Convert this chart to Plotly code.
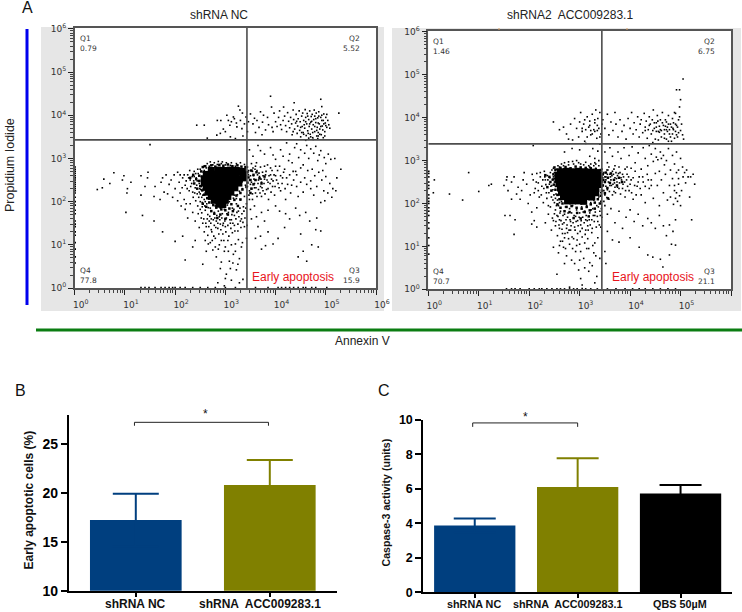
import plotly.graph_objects as go

W, H = 742, 612

# Panel A: flow cytometry events, as (log10 Annexin V, log10 PI)
nc_core = [(2.72,2.72),(2.85,2.73),(2.98,2.72),(3.1,2.73),(3.22,2.72),(3.34,2.7),(2.62,2.63),(2.74,2.64),(2.86,2.65),(2.98,2.63),(3.1,2.64),(3.22,2.63),(3.35,2.62),
(2.58,2.53),(2.68,2.54),(2.8,2.53),(2.92,2.54),(3.04,2.53),(3.16,2.54),(3.28,2.52),(3.36,2.55),(2.58,2.43),(2.68,2.42),(2.8,2.43),(2.92,2.42),(3.04,2.43),(3.16,2.42),(3.27,2.43),
(2.62,2.33),(2.72,2.32),(2.84,2.33),(2.96,2.32),(3.08,2.33),(3.19,2.32),(2.66,2.22),(2.76,2.22),(2.88,2.23),(3.0,2.22),(3.11,2.22),(2.72,2.12),(2.82,2.12),(2.94,2.13),(3.05,2.12),(2.78,2.03),(2.88,2.02),(3.0,2.03),(2.87,1.94),(2.95,1.93)]
nc_mid = [(2.6,2.82),(2.72,2.84),(2.8,2.81),(2.88,2.85),(2.96,2.83),(3.05,2.86),(3.14,2.82),(3.24,2.84),(3.32,2.81),(3.4,2.8),(3.44,2.68),(3.46,2.56),(3.44,2.44),(3.42,2.34),(3.34,2.28),(3.3,2.2),(3.22,2.14),(3.18,2.04),(3.12,1.94),(3.08,1.84),(3.0,1.8),(2.92,1.82),(2.82,1.86),(2.76,1.92),(2.68,1.98),(2.64,2.08),(2.58,2.16),(2.54,2.26),(2.5,2.36),(2.48,2.48),(2.48,2.6),(2.52,2.7),(2.42,2.52),(2.38,2.42),(2.36,2.62),(2.44,2.3),(2.3,2.55),(2.55,2.8),(3.52,2.72),(3.56,2.62),(3.6,2.5),(3.56,2.4),(3.52,2.3),(3.62,2.68),(3.68,2.54),(3.72,2.42),(3.78,2.58),(3.5,2.5),(3.5,2.2),(2.9,1.7),(3.05,1.7),(2.78,1.72),(2.84,1.62),(3.0,1.6),(2.72,1.78),(3.15,1.78),(3.25,1.9),(2.62,1.88),(2.55,1.95),(3.3,2.05)]
nc_sparse = [(2.43,3.77),(2.58,3.77),(2.64,3.47),(2.83,3.54),(2.9,3.58),(2.84,3.88),(2.91,3.88),(3.03,4.0),(3.16,3.96),(3.26,4.21),(3.29,4.12),(3.09,3.77),(3.23,3.73),(3.33,3.69),(3.41,3.96),(3.46,3.85),(3.63,3.88),(3.76,4.0),(3.9,4.44),(3.92,4.19),(4.16,4.19),(4.37,4.29),(4.9,4.37),(5.26,4.05),(3.0,3.62),(3.12,3.85),(3.18,3.92),(3.22,3.82),(3.34,4.05),(3.38,3.8),(3.44,3.62),(3.5,4.03),(3.55,3.8),(3.58,3.93),(3.67,3.72),(3.7,4.08),(3.74,3.84),(3.8,3.66),(3.84,3.95),(3.86,3.78),(3.93,3.72),(3.97,4.05),(4.0,3.85),
(4.03,3.74),(4.06,3.95),(4.08,4.1),(4.1,3.78),(4.12,3.67),(4.15,3.88),(4.18,3.98),(4.2,3.76),(4.22,3.62),(4.24,4.06),(4.26,3.86),(4.28,3.71),(4.3,3.95),(4.32,3.8),(4.33,3.55),(4.35,4.12),(4.36,3.9),(4.38,3.68),(4.4,3.82),(4.41,4.02),(4.43,3.58),(4.44,3.75),(4.45,3.92),(4.47,4.1),(4.48,3.65),(4.49,3.85),(4.5,3.5),(4.52,3.98),(4.53,3.74),(4.54,4.05),(4.55,3.6),(4.56,3.88),(4.58,3.7),(4.59,4.13),(4.6,3.95),(4.61,3.53),(4.62,3.8),(4.63,4.04),(4.64,3.64),(4.66,3.9),(4.67,3.74),(4.68,4.1),(4.69,3.56),(4.7,3.84),(4.71,3.97),(4.72,3.68),(4.73,4.02),(4.74,3.48),(4.75,3.78),(4.76,3.9),(4.77,4.12),(4.78,3.62),(4.8,3.83),(4.81,4.05),(4.82,3.52),(4.83,3.72),(4.84,3.94),(4.85,3.6),(4.86,4.08),(4.87,3.8),(4.88,3.68),(4.9,3.95),(4.91,3.55),(4.92,4.2),(4.93,3.75),(4.95,3.88),(4.96,4.03),(4.98,3.62),(4.99,3.82),(5.0,3.95),(5.02,3.72),(5.04,3.88),(5.06,3.78),(5.08,3.7),(4.6,3.42),(4.66,3.47),(4.75,3.44),(4.84,3.46),(3.73,3.55),(3.95,3.62),(3.6,3.6),(3.35,3.52),(3.2,3.46),(3.1,3.5),(2.96,3.68),(3.06,3.88),(3.3,3.88),
(1.5,3.32),(3.65,3.3),(3.78,3.1),(3.9,3.25),(4.0,2.98),(4.1,3.2),(4.15,3.05),(4.22,3.36),(4.28,3.1),(4.33,2.9),(4.38,3.25),(4.42,3.34),(4.46,3.02),(4.5,3.2),(4.55,2.85),(4.58,3.12),(4.62,3.3),(4.66,3.0),(4.7,3.22),(4.73,2.75),(4.76,3.12),(4.8,3.28),(4.84,2.95),(4.87,3.08),(4.9,3.18),(4.94,2.72),(4.97,3.02),(5.0,2.88),(5.05,3.1),(5.1,2.98),(5.18,3.0),(5.3,2.75),(3.55,3.05),(3.62,2.9),(3.7,3.18),(3.48,3.2),(3.52,2.88),(3.84,2.85),(3.95,3.08),(4.08,2.82),(4.18,2.75),(4.26,2.95),(4.35,2.7),(4.42,2.62),(4.5,2.78),(4.58,2.55),(4.64,2.72),(4.7,2.48),(4.78,2.6),(4.82,2.35),(4.86,2.68),(4.92,2.5),(4.96,2.25),(5.0,2.58),(5.04,2.2),(5.08,2.42),(5.14,2.3),(5.2,2.25),(5.22,2.55),(5.12,2.1),(4.98,2.02),(4.9,1.98),(4.76,2.15),(4.7,2.3),(4.62,2.4),(4.55,2.22),(4.5,2.45),(4.45,2.12),(4.42,2.35),(4.36,2.5),(4.3,2.2),(4.24,2.4),(4.2,2.05),(4.14,2.55),(4.1,2.25),(4.05,2.42),(4.0,2.6),(3.98,2.15),(3.94,2.35),(3.9,2.62),(3.86,2.05),(3.82,2.28),(3.78,2.52),(3.74,2.68),(3.72,2.12),(3.7,2.35),(3.66,2.5),(3.63,2.72),(3.6,2.2),(3.58,2.42),(3.56,2.6),(3.54,2.05),(3.52,2.3),(3.5,2.72),(3.48,2.5),(3.47,2.15),(3.64,2.62),(3.68,2.58),(3.55,2.78),(3.6,2.5),(3.72,2.45),(3.8,2.62),(3.85,2.45),(3.92,2.52),(3.5,2.4),(3.46,2.62),(3.58,2.32),(3.66,2.28),(3.44,2.35),(3.48,2.25),(3.75,2.25),
(4.0,1.9),(4.08,1.78),(4.2,1.72),(4.28,1.6),(4.4,1.85),(4.48,1.68),(4.6,1.75),(4.68,1.55),(4.82,1.62),(4.8,1.35),(4.9,1.32),(3.85,1.8),(3.78,1.55),(3.72,1.75),(3.65,1.42),(3.58,1.9),(3.52,1.6),(3.5,1.82),(3.62,1.65),(3.7,1.2),(3.85,1.3),(3.95,1.02),(4.05,1.15),(4.18,1.4),(4.45,0.72),(4.5,1.25),(4.62,0.62),(4.55,0.85),(4.72,1.0),(4.85,0.95),(3.8,0.98),(3.72,0.9),(3.6,1.15),
(2.08,2.45),(2.15,2.55),(2.2,2.38),(2.25,2.62),(2.28,2.25),(2.3,2.5),(2.33,2.42),(2.36,2.1),(2.38,2.7),(2.4,2.32),(2.42,2.55),(2.44,2.18),(2.46,2.65),(2.48,2.42),(2.5,2.0),(2.5,2.75),(2.51,2.28),(2.52,2.58),(2.54,1.88),(2.55,2.15),(2.56,2.68),(2.58,2.05),(2.6,1.8),(2.6,2.2),(2.62,2.78),(2.63,1.95),(2.65,1.7),(2.66,2.08),(2.68,2.82),(2.7,1.85),(2.72,1.6),(2.74,1.98),(2.75,2.85),(2.78,1.75),(2.8,1.9),(2.82,1.55),(2.84,2.86),(2.86,1.78),(2.88,1.65),(2.9,1.85),(2.92,2.88),(2.94,1.72),(2.96,1.5),(2.98,1.82),(3.0,2.85),(3.02,1.62),(3.04,1.92),(3.06,1.75),(3.08,2.0),(3.1,2.84),(3.12,1.58),(3.14,1.85),(3.16,2.08),(3.18,1.68),(3.2,2.82),(3.22,1.95),(3.24,2.16),(3.26,1.78),(3.28,2.24),(3.3,2.04),(3.32,1.6),(3.34,2.3),(3.36,1.88),(3.38,2.12),(3.4,2.38),(3.42,1.95),(3.44,2.8),(3.46,2.72),(3.22,2.07),(3.18,2.15),(2.52,2.35),(2.48,2.22),(2.44,2.48),(2.54,2.45),(2.38,2.58),(2.58,2.72),(2.56,2.3),
(2.3,1.95),(2.25,1.62),(2.2,1.82),(2.35,1.75),(2.4,1.55),(2.45,1.9),(2.52,1.62),(2.48,1.4),(2.55,1.5),(2.58,1.3),(2.62,1.42),(2.65,1.22),(2.68,1.55),(2.7,1.05),(2.72,1.35),(2.75,0.88),(2.78,1.45),(2.8,1.15),(2.82,0.72),(2.85,1.38),(2.88,1.0),(2.9,1.48),(2.92,0.6),(2.95,1.25),(2.98,0.85),(3.0,1.42),(3.02,0.32),(3.05,1.1),(3.08,0.62),(3.1,1.5),(3.12,0.18),(3.14,1.28),(3.16,0.78),(3.18,1.45),(3.2,1.02),(3.22,0.42),(3.25,1.32),(3.28,0.68),(3.3,1.55),(3.32,0.95),(3.35,0.2),(3.38,1.42),(3.42,1.15),(2.15,1.2),(2.0,1.08),(2.2,0.65),(2.35,0.95),(2.55,0.55),(2.62,0.85),(2.4,1.1),(2.98,0.05),(2.85,0.12),(3.0,0.22),(3.28,0.12),
(0.45,2.28),(0.55,2.32),(0.7,2.42),(0.78,2.67),(0.58,2.52),(0.95,2.5),(0.98,2.6),(1.05,2.3),(1.04,2.2),(1.12,2.45),(1.02,1.75),(1.32,2.6),(1.4,2.35),(1.45,2.55),(1.46,2.68),(1.32,2.15),(1.35,1.68),(1.58,2.12),(1.6,2.35),(1.7,2.05),(1.72,2.45),(1.75,2.55),(1.78,2.22),(1.82,2.62),(1.85,2.18),(1.88,2.4),(1.92,2.5),(1.95,2.1),(1.98,2.62),(2.0,2.3),(2.05,2.02),(2.05,2.68),(2.1,2.2),(1.75,1.3),(1.58,1.55),(2.12,1.9),(2.18,2.05),(2.22,1.95),
(0.01,2.8),(0.01,2.75),(0.01,2.7),(0.01,2.65),(0.01,2.6),(0.01,2.55),(0.01,2.5),(0.01,2.45),(0.01,2.4),(0.01,2.35),(0.01,2.3),(0.01,2.25),(0.01,2.2),(0.01,2.1),(0.01,2.0),(0.01,1.92),(0.01,1.8),(0.01,1.72),(0.01,1.55),(0.01,1.48),(0.01,1.42),(0.01,1.3),(0.01,1.22),(0.01,1.05),(0.01,0.9),(0.01,0.72),(0.01,0.58),
(1.32,0.01),(1.4,0.01),(1.48,0.01),(1.6,0.01),(1.72,0.01),(1.8,0.01),(1.88,0.01),(1.95,0.01),(2.0,0.01),(2.1,0.01),(2.2,0.01),(2.35,0.01),(2.5,0.01),(2.65,0.01),(2.8,0.01),(3.0,0.01),(3.2,0.01),(3.6,0.01),(3.85,0.01),(4.05,0.01),(4.12,0.01),(4.2,0.01),(4.28,0.01),(4.36,0.01),(4.45,0.01),(4.55,0.01),(4.6,0.01),(4.72,0.01),(4.8,0.01),(5.02,0.01)]
nc_extra = [(2.41,2.02),(2.46,1.72),(2.5,1.82),(2.53,1.74),(2.57,1.6),(2.59,1.9),(2.61,1.5),(2.64,1.6),(2.66,1.86),(2.67,1.42),(2.69,1.66),(2.71,1.5),(2.73,1.3),(2.76,1.58),(2.77,1.2),(2.79,1.62),(2.81,1.4),(2.83,1.68),(2.85,1.5),(2.87,1.25),(2.89,1.58),(2.91,1.35),(2.93,1.62),(2.95,1.45),(2.97,1.1),(2.99,1.55),(3.01,1.3),(3.03,1.72),(3.05,1.45),(3.07,1.2),(3.09,1.58),(3.11,1.38),(3.13,1.7),(3.15,1.5),(3.17,1.82),(3.19,1.32),(3.21,1.6),(3.23,1.75),(3.25,1.48),(3.27,1.65),(3.29,1.85),(3.31,1.4),(3.33,1.72),(3.35,1.52),(3.37,1.78),(3.39,1.62),(3.41,1.85),(3.43,1.45),(2.6,1.1),(2.66,1.02),(2.74,1.1),(2.8,0.95),(2.86,0.9),(2.92,1.1),(3.0,0.95),(3.06,0.85),(3.12,1.0),(3.2,0.85),(3.26,1.12),(3.34,1.05),(2.9,0.45),(3.1,0.45),(3.15,0.58),(3.25,0.55),
(3.48,2.05),(3.5,2.6),(3.52,2.45),(3.54,2.7),(3.54,2.18),(3.57,2.52),(3.59,2.75),(3.61,2.32),(3.63,2.12),(3.65,2.42),(3.67,2.66),(3.69,2.2),(3.71,2.52),(3.73,2.32),(3.75,2.6),(3.77,2.42),(3.79,2.18),(3.81,2.7),(3.83,2.5),(3.85,2.3),(3.87,2.6),(3.89,2.42),(3.91,2.22),(3.93,2.72),(3.95,2.48),(3.97,2.62),(3.99,2.35),(4.02,2.5),(4.04,2.72),(4.07,2.32),(4.1,2.6),(4.13,2.42),(4.16,2.68),(4.19,2.3),(4.22,2.55),(4.28,2.62),(4.32,2.38),(4.4,2.7),(3.6,2.82),(3.7,2.8),(3.78,2.82),(3.9,2.78),(4.0,2.82),
(2.1,2.62),(2.14,2.32),(2.18,2.62),(2.22,2.48),(2.24,2.3),(2.27,2.55),(2.29,2.72),(2.31,2.35),(2.34,2.58),(2.35,2.22),(2.37,2.48),(2.39,2.2),(2.41,2.65),(2.43,2.38),(2.45,2.75),(2.47,2.1),(2.49,2.3),(2.5,2.18),(2.53,2.1),(2.54,1.98),(2.57,2.82),(2.6,2.0),(2.64,2.88),(2.7,2.92),(2.78,2.9),(2.86,2.93),(2.94,2.92),(3.02,2.9),(3.12,2.9),(3.22,2.88),(3.3,2.9),(3.38,2.86),
(4.35,3.62),(4.42,3.86),(4.5,3.72),(4.52,3.6),(4.57,3.78),(4.6,3.85),(4.65,3.58),(4.68,3.8),(4.72,3.86),(4.74,3.6),(4.78,3.74),(4.8,3.92),(4.82,3.65),(4.85,3.82),(4.88,3.56),(4.9,3.74),(4.92,3.88),(4.94,3.66),(4.96,3.8),(4.98,3.52),(5.0,3.76),(4.7,3.5),(4.85,3.52),(4.78,3.98),(4.86,3.98),(4.92,4.0),(4.64,3.98),(4.56,3.56),(5.02,4.02),(4.95,3.48)]

kd_core = [(2.62,2.74),(2.74,2.75),(2.86,2.74),(2.98,2.75),(3.1,2.74),(3.22,2.73),(3.34,2.72),(2.58,2.66),(2.68,2.66),(2.8,2.67),(2.92,2.66),(3.04,2.67),(3.16,2.66),(3.28,2.65),(3.38,2.67),
(2.57,2.56),(2.67,2.56),(2.79,2.57),(2.91,2.56),(3.03,2.56),(3.15,2.57),(3.27,2.56),(3.38,2.57),(2.59,2.46),(2.69,2.46),(2.81,2.47),(2.93,2.46),(3.05,2.46),(3.17,2.47),(3.29,2.46),(3.38,2.44),
(2.62,2.36),(2.72,2.36),(2.84,2.37),(2.96,2.36),(3.08,2.36),(3.2,2.36),(3.32,2.35),(2.64,2.26),(2.74,2.26),(2.86,2.26),(2.98,2.27),(3.1,2.26),(3.22,2.26),(3.32,2.25),(2.68,2.16),(2.78,2.16),(2.9,2.17),(3.02,2.16),(3.14,2.16),(3.24,2.15),(2.76,2.06),(2.86,2.06),(2.98,2.06),(3.08,2.05)]
kd_mid = [(2.52,2.78),(2.62,2.83),(2.72,2.85),(2.82,2.82),(2.92,2.86),(3.02,2.84),(3.12,2.83),(3.22,2.82),(3.32,2.8),(3.42,2.78),(3.46,2.68),(3.47,2.55),(3.46,2.42),(3.44,2.3),(3.42,2.18),(3.36,2.1),(3.3,2.02),(3.22,1.98),(3.14,1.92),(3.04,1.88),(2.94,1.9),(2.84,1.94),(2.74,1.92),(2.66,2.0),(2.6,2.1),(2.56,2.2),(2.52,2.32),(2.49,2.44),(2.47,2.56),(2.48,2.68),(2.4,2.62),(2.42,2.5),(2.36,2.38),(2.44,2.3),(2.32,2.66),(2.5,2.84),(3.52,2.72),(3.56,2.6),(3.6,2.48),(3.55,2.36),(3.5,2.24),(3.62,2.7),(3.68,2.55),(3.74,2.42),(3.78,2.6),(3.5,2.5),(3.84,2.5),(3.56,2.12),(2.95,1.78),(3.1,1.8),(2.8,1.8),(2.88,1.66),(3.02,1.65),(2.7,1.82),(3.2,1.84),(3.3,1.88),(2.62,1.9),(2.56,1.98),(3.4,2.0),(3.18,1.7)]
kd_sparse = [(2.48,3.9),(2.6,3.72),(2.68,3.78),(2.74,3.62),(2.78,3.5),(2.82,3.85),(2.86,3.48),(2.9,3.98),(2.94,3.75),(2.98,3.55),(3.0,3.9),(3.02,4.12),(3.05,3.68),(3.08,3.85),(3.1,3.45),(3.12,3.72),(3.15,4.02),(3.18,3.78),(3.2,3.92),(3.22,3.6),(3.25,4.08),(3.28,3.72),(3.3,3.88),(3.32,4.18),(3.34,3.52),(3.36,3.98),(3.38,3.75),(3.4,4.12),(3.42,3.62),(3.44,3.85),(3.46,3.95),(3.3,3.68),(3.22,3.7),(3.35,3.7),
(3.5,3.75),(3.55,4.08),(3.58,3.6),(3.62,3.9),(3.66,3.7),(3.7,4.12),(3.72,3.85),(3.76,3.55),(3.8,3.95),(3.84,3.68),(3.88,3.82),(3.92,3.5),(3.96,3.98),(4.0,3.75),(4.03,4.12),(4.06,3.62),(4.08,3.88),(4.12,3.72),(4.15,4.02),(4.18,3.55),(4.2,3.85),(4.22,3.95),(4.25,3.65),(4.28,4.1),(4.3,3.78),(4.32,3.92),(4.34,3.52),(4.36,3.72),(4.38,4.02),(4.4,3.85),(4.42,3.62),(4.44,3.95),(4.46,4.18),(4.48,3.75),(4.5,3.5),(4.52,3.88),(4.54,4.05),(4.56,3.68),(4.58,3.8),(4.6,3.95),(4.62,3.55),(4.64,4.12),(4.66,3.82),(4.68,3.72),(4.7,3.95),(4.72,3.5),(4.74,3.78),(4.76,4.05),(4.78,3.62),(4.8,3.85),(4.82,3.45),(4.84,3.98),(4.85,3.75),(4.86,3.88),(4.88,4.12),(4.9,3.68),(4.92,3.82),(4.94,3.55),(4.96,3.95),(4.98,4.02),(5.0,3.7),(5.02,3.85),(5.04,3.6),(5.06,3.5),(4.98,4.25),(4.9,4.1),(4.92,4.65),(5.0,4.42),(4.98,4.65),(5.05,4.9),(4.45,3.7),(4.52,3.68),(4.58,3.66),(4.62,3.7),(4.72,3.72),(4.76,3.45),(4.56,3.48),(4.45,3.42),(4.68,3.52),
(2.08,3.35),(2.7,3.2),(2.85,3.28),(3.0,3.25),(3.12,3.4),(3.2,3.1),(3.26,3.28),(3.3,3.05),(3.32,2.92),(3.36,3.22),(3.38,3.0),(3.4,3.38),(3.28,2.88),(3.2,2.85),(3.5,3.2),(3.55,2.95),(3.6,3.3),(3.65,3.1),(3.7,2.88),(3.76,3.2),(3.82,3.05),(3.88,3.3),(3.94,2.85),(3.98,3.12),(4.04,3.32),(4.1,2.95),(4.16,3.18),(4.22,2.8),(4.26,3.3),(4.3,3.05),(4.35,2.88),(4.38,3.35),(4.42,3.15),(4.46,2.98),(4.5,3.28),(4.52,3.08),(4.55,3.02),(4.58,2.75),(4.6,3.2),(4.62,3.05),(4.66,3.12),(4.68,2.9),(4.72,3.0),(4.76,3.28),(4.8,2.78),(4.84,3.12),(4.88,2.92),(4.92,3.2),(4.96,2.78),(5.0,3.05),(5.04,2.85),(5.08,2.72),(5.12,2.78),(5.2,2.62),(5.25,2.68),
(3.48,2.72),(3.52,2.55),(3.56,2.78),(3.6,2.42),(3.64,2.65),(3.68,2.28),(3.72,2.72),(3.74,2.5),(3.78,2.35),(3.82,2.6),(3.86,2.45),(3.9,2.15),(3.94,2.68),(3.98,2.3),(4.02,2.55),(4.06,2.1),(4.1,2.75),(4.14,2.4),(4.18,2.62),(4.22,2.2),(4.26,2.5),(4.3,2.02),(4.34,2.68),(4.38,2.35),(4.42,2.55),(4.46,2.12),(4.5,2.7),(4.54,2.42),(4.58,1.95),(4.62,2.55),(4.66,2.25),(4.7,2.68),(4.74,2.08),(4.78,2.42),(4.8,2.15),(4.84,2.58),(4.86,1.98),(4.88,2.3),(4.9,2.12),(4.92,2.72),(4.94,2.05),(4.96,2.45),(4.98,2.18),(5.0,1.95),(5.02,2.3),(5.05,2.62),(5.1,2.48),(5.18,2.15),(5.22,1.62),(5.28,2.45),(5.15,2.62),(3.46,2.42),(3.5,2.2),(3.55,2.32),(3.58,2.1),(3.62,2.55),(3.66,2.45),(3.7,2.6),(3.52,2.62),(3.48,2.05),(3.55,2.68),(3.75,2.65),(3.6,2.68),(3.65,2.75),(3.8,2.72),(3.85,2.68),(3.7,2.38),
(3.5,1.95),(3.55,1.75),(3.62,1.88),(3.7,1.55),(3.78,1.82),(3.85,1.42),(3.92,1.68),(4.0,1.85),(4.08,1.58),(4.16,1.75),(4.25,1.48),(4.35,1.65),(4.42,1.55),(4.5,1.42),(4.58,1.72),(4.66,1.48),(4.78,1.5),(4.85,1.35),(4.9,1.62),(4.82,1.05),(4.9,1.03),(4.78,0.8),(4.6,0.7),(4.45,0.75),(4.0,1.2),(3.78,1.1),(3.55,1.35),(3.5,0.88),(3.52,0.6),(3.42,1.45),(4.18,0.98),(4.35,0.8),(4.65,0.52),(4.72,1.25),(3.65,1.15),
(1.9,2.72),(2.02,2.2),(2.08,2.55),(2.12,2.35),(2.15,2.7),(2.18,2.48),(2.2,2.15),(2.22,2.62),(2.25,2.4),(2.28,2.02),(2.3,2.75),(2.32,2.55),(2.34,2.25),(2.36,2.65),(2.38,1.95),(2.4,2.45),(2.42,2.72),(2.44,2.15),(2.46,2.55),(2.47,2.32),(2.48,2.82),(2.5,2.02),(2.51,2.65),(2.52,1.85),(2.53,2.22),(2.54,2.8),(2.55,1.72),(2.56,2.08),(2.58,1.95),(2.6,1.62),(2.6,2.85),(2.62,1.82),(2.64,2.05),(2.66,1.52),(2.68,2.88),(2.7,1.75),(2.72,1.92),(2.74,1.42),(2.76,1.68),(2.78,2.9),(2.8,1.88),(2.82,1.58),(2.84,1.78),(2.86,1.95),(2.88,2.92),(2.9,1.45),(2.92,1.7),(2.94,1.85),(2.96,1.6),(2.98,2.95),(3.0,1.78),(3.02,1.5),(3.04,1.92),(3.06,1.68),(3.08,2.9),(3.1,1.82),(3.12,1.62),(3.14,1.95),(3.16,1.48),(3.18,2.88),(3.2,1.78),(3.22,2.02),(3.24,1.62),(3.26,1.88),(3.28,2.08),(3.3,1.72),(3.32,2.82),(3.34,1.95),(3.36,1.58),(3.38,2.15),(3.4,1.82),(3.42,2.05),(3.44,1.68),(3.42,2.25),(3.44,2.8),(3.46,2.6),(3.44,2.5),(2.52,2.4),(2.5,2.5),(2.48,2.62),(2.5,2.72),(2.45,2.42),
(2.38,1.75),(2.32,1.55),(2.44,1.38),(2.48,1.6),(2.52,1.48),(2.56,1.25),(2.6,1.42),(2.62,1.12),(2.66,1.3),(2.68,0.98),(2.7,1.2),(2.74,0.78),(2.76,1.32),(2.8,1.05),(2.82,1.38),(2.84,0.68),(2.88,1.18),(2.92,0.88),(2.96,1.3),(2.98,0.45),(3.0,1.05),(3.02,0.25),(3.05,1.22),(3.08,0.72),(3.12,1.38),(3.14,0.95),(3.16,1.18),(3.2,0.62),(3.24,1.32),(3.28,0.85),(3.3,1.08),(3.34,0.3),(3.36,1.2),(3.4,0.72),(2.58,0.85),(2.48,0.98),(2.15,1.45),(2.05,1.52),(1.7,1.28),(1.72,1.62),(2.55,0.35),(3.05,0.1),(3.3,0.15),(2.8,0.05),(3.18,0.42),
(0.12,2.55),(0.1,2.25),(0.42,2.22),(0.68,2.08),(1.0,2.28),(1.2,2.42),(1.25,2.45),(1.55,2.55),(1.56,2.62),(1.58,2.3),(1.5,2.42),(1.65,2.5),(1.7,2.62),(1.78,2.38),(1.85,2.3),(1.88,2.55),(1.95,2.45),(1.75,2.22),(1.62,1.72),(1.52,1.72),(1.65,2.1),(1.82,2.1),(1.98,2.0),(2.05,1.8),(2.1,1.6),(2.15,1.9),(0.8,2.72),
(0.01,2.75),(0.01,2.7),(0.01,2.62),(0.01,2.5),(0.01,2.42),(0.01,2.35),(0.01,2.2),(0.01,2.12),(0.01,2.05),(0.01,2.0),(0.01,1.9),(0.01,1.82),(0.01,1.72),(0.01,1.55),(0.01,1.42),(0.01,1.2),(0.01,1.02),(0.01,0.82),
(1.55,0.01),(1.65,0.01),(1.72,0.01),(1.82,0.01),(2.0,0.01),(2.1,0.01),(2.2,0.01),(2.25,0.01),(2.35,0.01),(2.45,0.01),(2.55,0.01),(2.62,0.01),(2.7,0.01),(2.8,0.01),(2.88,0.01),(2.95,0.01),(3.05,0.02),(3.12,0.01),(3.22,0.01),(3.35,0.01),(3.55,0.01),(3.72,0.01),(3.9,0.01),(4.05,0.01),(4.18,0.01),(4.3,0.01),(4.45,0.01),(4.6,0.01),(4.75,0.01),(4.9,0.01)]
kd_extra = [(2.42,1.92),(2.46,1.66),(2.5,1.76),(2.53,1.58),(2.57,1.7),(2.59,1.5),(2.61,1.78),(2.63,1.6),(2.65,1.4),(2.67,1.72),(2.69,1.55),(2.71,1.3),(2.73,1.62),(2.75,1.5),(2.77,1.78),(2.79,1.38),(2.81,1.62),(2.83,1.48),(2.85,1.22),(2.87,1.55),(2.89,1.72),(2.91,1.38),(2.93,1.58),(2.95,1.15),(2.97,1.48),(2.99,1.68),(3.01,1.35),(3.03,1.6),(3.05,1.42),(3.07,1.8),(3.09,1.55),(3.11,1.28),(3.13,1.72),(3.15,1.6),(3.17,1.38),(3.19,1.62),(3.21,1.5),(3.23,1.85),(3.25,1.42),(3.27,1.72),(3.29,1.58),(3.31,1.8),(3.33,1.45),(3.35,1.7),(3.37,1.92),(3.39,1.5),(3.41,1.72),(3.43,1.88),(2.6,1.02),(2.66,1.12),(2.72,0.95),(2.78,1.18),(2.86,0.95),(2.94,1.02),(3.02,0.88),(3.1,1.08),(3.18,0.95),(3.26,1.02),(3.32,0.78),(2.9,0.6),(3.1,0.5),(3.25,0.55),(2.7,0.6),(3.0,0.68),
(3.48,2.3),(3.5,2.62),(3.52,2.4),(3.54,2.78),(3.54,2.14),(3.57,2.5),(3.59,2.28),(3.61,2.62),(3.63,2.42),(3.65,2.2),(3.67,2.68),(3.69,2.48),(3.71,2.25),(3.73,2.58),(3.75,2.38),(3.77,2.7),(3.79,2.48),(3.81,2.22),(3.83,2.55),(3.85,2.35),(3.87,2.62),(3.89,2.5),(3.91,2.3),(3.93,2.55),(3.95,2.4),(3.97,2.62),(4.0,2.45),(4.03,2.25),(4.06,2.6),(4.09,2.42),(4.12,2.2),(4.16,2.5),(4.2,2.35),(4.25,2.62),(4.3,2.4),(4.36,2.55),(3.58,2.85),(3.68,2.8),(3.78,2.85),(3.9,2.8),(4.02,2.82),(4.42,2.42),(4.88,2.42),(4.92,2.25),(4.96,2.58),
(2.06,2.68),(2.1,2.25),(2.14,2.5),(2.18,2.3),(2.22,2.72),(2.24,2.2),(2.27,2.55),(2.29,2.35),(2.31,2.62),(2.33,2.44),(2.35,2.12),(2.37,2.55),(2.39,2.25),(2.41,2.6),(2.43,2.4),(2.45,2.78),(2.47,2.08),(2.49,2.2),(2.5,2.58),(2.52,2.12),(2.54,1.95),(2.57,2.88),(2.6,2.02),(2.64,2.92),(2.7,2.95),(2.78,2.97),(2.86,2.98),(2.94,3.0),(3.02,2.92),(3.12,2.96),(3.22,2.92),(3.3,2.95),(3.38,2.88),
(4.3,3.7),(4.38,3.82),(4.48,3.88),(4.52,3.78),(4.55,3.92),(4.6,3.72),(4.64,3.88),(4.68,3.62),(4.7,3.8),(4.72,3.9),(4.74,3.68),(4.76,3.85),(4.78,3.72),(4.8,3.55),(4.82,3.78),(4.84,3.62),(4.86,3.72),(4.88,3.52),(4.9,3.85),(4.92,3.6),(4.94,3.78),(4.96,3.65),(3.05,3.75),(3.1,3.95),(3.15,3.55),(3.2,3.82),(3.25,3.62),(3.3,3.95),(3.35,3.82),(3.4,3.55)]

flow_titles = ["shRNA NC", "shRNA2  ACC009283.1"]
quadrant_x = [3.43, 3.44]
quadrant_y = [3.43, 3.39]
quadrant_names = ["Q1", "Q2", "Q4", "Q3"]
quadrant_values = [["0.79", "5.52", "77.8", "15.9"], ["1.46", "6.75", "70.7", "21.1"]]
decades = [0, 1, 2, 3, 4, 5, 6]

# Panel B
b_labels = ["shRNA NC", "shRNA  ACC009283.1"]
b_values = [17.24, 20.83]
b_errors = [2.7, 2.56]
b_ticks = [10, 15, 20, 25]

# Panel C
c_labels = ["shRNA NC", "shRNA  ACC009283.1", "QBS 50µM"]
c_values = [3.87, 6.11, 5.73]
c_errors = [0.42, 1.67, 0.5]
c_ticks = [0, 2, 4, 6, 8, 10]

NAVY, OLIVE, BLACK = "#003F7F", "#808000", "#000000"
FONT = "Liberation Sans"


def px(x):
    return x / W


def py(y):
    return 1 - y / H


fig = go.Figure()


def flow_panel(idx, core, mid, sparse, box, ylims):
    xn, yn = ("x", "y") if idx == 0 else ("x2", "y2")
    for pts, size in ((core, 7), (mid, 2.5), (sparse, 1.6)):
        fig.add_trace(go.Scatter(
            x=[10 ** p[0] for p in pts], y=[10 ** p[1] for p in pts],
            mode="markers", xaxis=xn, yaxis=yn, showlegend=False, cliponaxis=False,
            marker=dict(symbol="square", size=size, color="black", line=dict(width=0))))
    vals = [10 ** d for d in decades]
    text = [f"10<sup>{d}</sup>" for d in decades]
    minors = [m * 10 ** d for d in decades[:-1] for m in range(2, 10)]
    common = dict(type="log", tickmode="array", tickvals=vals, ticktext=text, ticks="outside",
                  tickcolor="#222222", tickwidth=1, ticklen=5, showgrid=False, zeroline=False, automargin=False,
                  showline=True, linecolor="#555555", linewidth=1.5, mirror=True,
                  tickfont=dict(family="DejaVu Sans", size=9, color="#333333"),
                  minor=dict(tickmode="array", tickvals=minors, ticks="outside", ticklen=3,
                             tickcolor="#444444", tickwidth=1, showgrid=False))
    x0, x1, y0, y1 = box
    xa = dict(common, domain=[px(x0), px(x1)], range=[0, 6.0], anchor=yn, ticklabelstandoff=2, ticklabelshift=6)
    ya = dict(common, domain=[py(y1), py(y0)], range=ylims, anchor=xn)
    fig.update_layout(**{("xaxis" if idx == 0 else "xaxis2"): xa, ("yaxis" if idx == 0 else "yaxis2"): ya})
    qx, qy = 10 ** quadrant_x[idx], 10 ** quadrant_y[idx]
    for sx0, sx1, sy0, sy1 in ((qx, qx, 1, 10 ** ylims[1]), (1, 10 ** 6, qy, qy)):
        fig.add_shape(type="line", xref=xn, yref=yn, x0=sx0, x1=sx1, y0=sy0, y1=sy1,
                      line=dict(color="#4d4d4d", width=1.6), layer="above")
    lx, rx = x0 + 4, x1 - 15
    ty, by = y0 + 5, y1 - 23
    for name, val, tx, anc, tyy in zip(quadrant_names, quadrant_values[idx],
                                       (lx, rx, lx, rx), ("left", "right", "left", "right"),
                                       (ty, ty, by, by)):
        fig.add_annotation(text=f"{name}<br>{val}", xref="paper", yref="paper", x=px(tx), y=py(tyy),
                           xanchor=anc, yanchor="top", showarrow=False, align=anc,
                           font=dict(family="DejaVu Sans", size=7.5, color="#333333"),
                           borderpad=0)


for gx0, gx1, gy0, gy1 in ((41, 384, 27, 311), (392, 741, 28, 311)):
    fig.add_shape(type="rect", xref="paper", yref="paper", x0=px(gx0), x1=px(gx1), y0=py(gy1), y1=py(gy0),
                  fillcolor="#E6E6E6", line=dict(width=0), layer="below")
for box in ((74.7, 376, 28, 288), (428.3, 731, 31, 289.3)):
    fig.add_shape(type="rect", xref="paper", yref="paper", x0=px(box[0]), x1=px(box[1]), y0=py(box[3]), y1=py(box[2]),
                  fillcolor="white", line=dict(width=0), layer="below")

flow_panel(0, nc_core, nc_mid, nc_sparse + nc_extra, (74.7, 376, 28, 288), [0, 6.02])
flow_panel(1, kd_core, kd_mid, kd_sparse + kd_extra, (428.3, 731, 31, 289.3), [0, 6.02])

fig.add_shape(type="line", xref="paper", yref="paper", x0=px(27), x1=px(27), y0=py(305), y1=py(29),
              line=dict(color="#0000EE", width=3))
fig.add_shape(type="line", xref="paper", yref="paper", x0=px(36), x1=px(742), y0=py(330), y1=py(330),
              line=dict(color="#0B7D12", width=3))
for ox in (499, 627):
    fig.add_shape(type="line", xref="paper", yref="paper", x0=px(ox - 1), x1=px(ox + 1), y0=py(29), y1=py(29),
                  line=dict(color="#D9A066", width=1))


def bar_panel(idx, labels, values, errors, colors, barw, cap, box, yrange, ticks, fs, lab_x, lab_size):
    xn, yn = f"x{idx}", f"y{idx}"
    for i, (v, e, c) in enumerate(zip(values, errors, colors)):
        fig.add_trace(go.Bar(
            x=[i], y=[v], width=barw, marker=dict(color=c, line=dict(width=0)), xaxis=xn, yaxis=yn,
            showlegend=False,
            error_y=dict(type="data", array=[e], symmetric=True, color=c, thickness=2, width=cap)))
    x0, x1, y0, y1 = box
    fig.update_layout(**{
        f"xaxis{idx}": dict(domain=[px(x0), px(x1)], range=[-0.5, len(values) - 0.5], anchor=yn, automargin=False,
                            tickmode="array", tickvals=list(range(len(values))), showticklabels=False,
                            ticks="outside", ticklen=4, tickwidth=2, tickcolor="black", showgrid=False, zeroline=False,
                            showline=True, linecolor="black", linewidth=2),
        f"yaxis{idx}": dict(domain=[py(y1), py(y0)], range=yrange, anchor=xn, tickmode="array", tickvals=ticks,
                            ticks="outside", ticklen=6, tickwidth=2, tickcolor="black", showgrid=False, zeroline=False,
                            showline=True, linecolor="black", linewidth=2, automargin=False,
                            tickfont=dict(family=FONT, size=fs, color="black", weight="bold")),
    })
    for lab, lx in zip(labels, lab_x):
        fig.add_annotation(text=f"<b>{lab}</b>", xref="paper", yref="paper", x=px(lx), y=py(603.5), xanchor="center",
                           yanchor="middle", showarrow=False, font=dict(family=FONT, size=lab_size, color="#111111"))


bar_panel(3, b_labels, b_values, b_errors, [NAVY, OLIVE], 0.684, 23, (68.8, 336.8, 415, 590.7), [10, 28], b_ticks,
          14, (135, 260), 12)
bar_panel(4, c_labels, c_values, c_errors, [NAVY, OLIVE, BLACK], 0.79, 21, (423.3, 732, 420, 592.3), [0, 10], c_ticks,
          12.5, (474, 568, 679.5), 10.8)

for xn, yn, x0, x1, yt, yb in (("x3", "y3", -0.01, 0.99, 27.25, 26.9), ("x4", "y4", -0.02, 1.0, 9.83, 9.6)):
    fig.add_trace(go.Scatter(x=[x0, x0, x1, x1], y=[yb, yt, yt, yb], mode="lines", xaxis=xn, yaxis=yn,
                             showlegend=False, cliponaxis=False, line=dict(color="#222222", width=1)))

texts = [
    ("A", 27, 8, 16, "#111111", 0), ("B", 20, 390, 16, "#111111", 0), ("C", 384, 390, 16, "#111111", 0),
    (flow_titles[0], 219, 15, 12, "#222222", 0), (flow_titles[1], 570, 15, 12, "#222222", 0),
    ("Propidium Iodide", 10, 165, 12.5, "#222222", -90), ("Annexin V", 362, 341, 12, "#222222", 0),
    ("Early apoptosis", 292.5, 277.5, 12, "#E8141C", 0), ("Early apoptosis", 652.5, 277, 12, "#E8141C", 0),
    ("*", 205, 414, 12, "#111111", 0), ("*", 525, 417, 12, "#111111", 0),
    ("<b>Early apoptotic cells (%)</b>", 28, 500.5, 12, "#111111", -90),
    ("<b>Caspase-3 activity (units)</b>", 385, 502.5, 10.6, "#111111", -90),
]
for t, x, y, s, c, rot in texts:
    fig.add_annotation(text=t, xref="paper", yref="paper", x=px(x), y=py(y), xanchor="center", yanchor="middle",
                       showarrow=False, textangle=rot, font=dict(family=FONT, size=s, color=c))

fig.update_layout(width=W, height=H, margin=dict(l=0, r=0, t=0, b=0, autoexpand=False), paper_bgcolor="white",
                  plot_bgcolor="rgba(0,0,0,0)", showlegend=False, font=dict(family=FONT))
fig.write_html("out.html", config=dict(displayModeBar=False),
               post_script="document.body.style.margin='0';document.documentElement.style.overflow='hidden';")
